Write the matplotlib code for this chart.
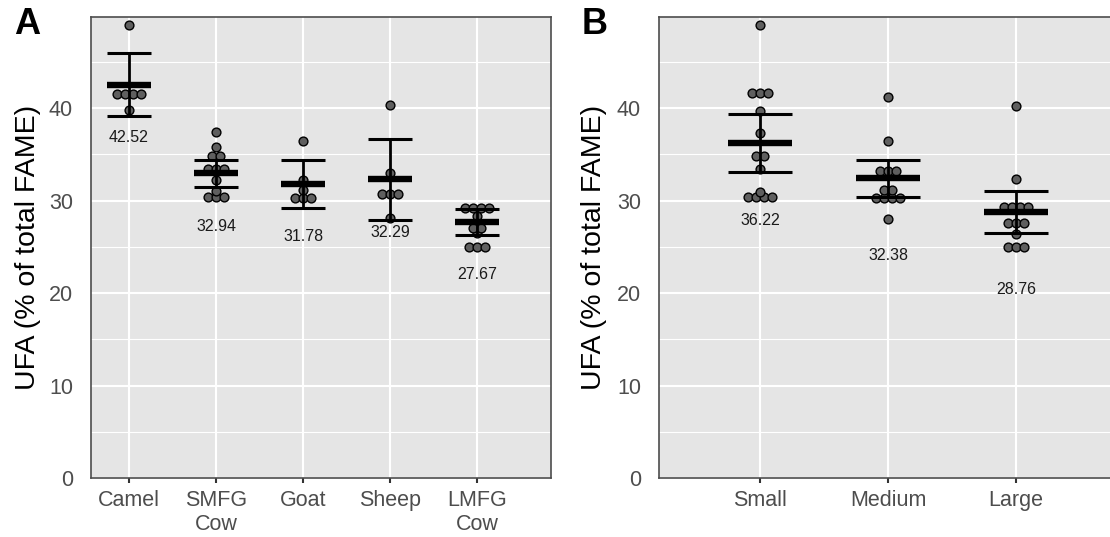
import numpy as np
import matplotlib.pyplot as plt

plt.rcParams['font.family'] = ['Liberation Sans', 'DejaVu Sans']

# Panel A: UFA by species
species = ['Camel', 'SMFG\nCow', 'Goat', 'Sheep', 'LMFG\nCow']
camel = [48.97, 41.48, 41.48, 41.48, 41.48, 39.78]
smfg_cow = [37.37, 35.82, 34.85, 34.85, 33.41, 33.41, 33.41, 32.22, 31.03,
            30.41, 30.41, 30.41]
goat = [36.47, 32.22, 31.14, 30.23, 30.23, 30.23]
sheep = [40.29, 32.94, 30.70, 30.70, 30.70, 28.08]
lmfg_cow = [29.22, 29.22, 29.22, 29.22, 28.36, 27.08, 27.08, 26.45, 25.00,
            25.00, 25.00]
species_mean = [42.52, 32.94, 31.78, 32.29, 27.67]
species_sd = [3.43, 1.48, 2.58, 4.36, 1.40]

# Panel B: UFA by herd size
herd = ['Small', 'Medium', 'Large']
small = [48.97, 41.66, 41.66, 41.66, 39.71, 37.35, 34.81, 34.81, 33.37, 30.96,
         30.41, 30.41, 30.41, 30.41]
medium = [41.15, 36.47, 33.15, 33.15, 33.15, 31.14, 31.14, 30.23, 30.23,
          30.23, 30.23, 28.00]
large = [40.25, 32.29, 29.33, 29.33, 29.33, 29.33, 27.53, 27.53, 27.53, 26.38,
         25.00, 25.00, 25.00]
herd_mean = [36.22, 32.38, 28.76]
herd_sd = [3.10, 2.03, 2.25]

W, H = 1110, 537
YMAX = 49.84
BG = '#E5E5E5'
EDGE = '#4D4D4D'


def dotplot(ax, xpos, values, binwidth=0.4, step_px=7.8):
    """ Centre-stacked dots, values binned along y"""
    x0, x1 = ax.get_xlim()
    step = step_px * (x1 - x0) / ax.get_window_extent().width
    bins = []
    for v in sorted(values):
        if bins and v - bins[-1][0] <= binwidth:
            bins[-1].append(v)
        else:
            bins.append([v])
    for b in bins:
        n = len(b)
        offs = (np.arange(n) - (n - 1) / 2) * step
        ax.scatter(xpos + offs, [np.mean(b)] * n, s=40, c='#5F5F5F',
                   edgecolors='black', linewidths=1.0, zorder=3)


def panel(ax, names, groups, means, sds, xlim, label_off):
    ax.set_facecolor(BG)
    ax.set_xlim(*xlim)
    ax.set_ylim(0, YMAX)
    x = np.arange(1, len(names) + 1)

    for xi, vals in zip(x, groups):
        dotplot(ax, xi, vals)

    means = np.array(means)
    sds = np.array(sds)
    ax.vlines(x, means - sds, means + sds, color='black', lw=2.0, zorder=4)
    ax.hlines(means - sds, x - 0.25, x + 0.25, color='black', lw=2.2, zorder=4)
    ax.hlines(means + sds, x - 0.25, x + 0.25, color='black', lw=2.2, zorder=4)
    ax.hlines(means, x - 0.25, x + 0.25, color='black', lw=4.6, zorder=4)
    for xi, m in zip(x, means):
        ax.text(xi, m - label_off, '{:.2f}'.format(m), ha='center',
                va='center', fontsize=11.5, color='#1A1A1A')

    ax.set_xticks(x)
    ax.set_xticklabels(names)
    ax.set_yticks([0, 10, 20, 30, 40])
    ax.set_yticks([5, 15, 25, 35, 45], minor=True)
    ax.grid(True, which='major', color='white', lw=1.5)
    ax.yaxis.grid(True, which='minor', color='white', lw=0.8)
    ax.set_axisbelow(True)

    ax.tick_params(axis='x', length=3.6, width=1.5, color='#333333', pad=5,
                   labelsize=15.5, labelcolor='#4D4D4D')
    ax.tick_params(axis='y', which='both', length=0, pad=13,
                   labelsize=15.5, labelcolor='#4D4D4D')
    for sp in ax.spines.values():
        sp.set_color(EDGE)
        sp.set_linewidth(1.2)
    ax.set_ylabel('UFA (% of total FAME)', fontsize=20.5, color='black')


fig = plt.figure(figsize=(W / 100, H / 100), dpi=100)
bottom = (H - 478) / H
height = (478 - 17) / H

axA = fig.add_axes([91 / W, bottom, 460 / W, height])
panel(axA, species, [camel, smfg_cow, goat, sheep, lmfg_cow],
      species_mean, species_sd, (0.563, 5.85), 5.7)
axA.yaxis.set_label_coords(-0.108, 0.5)

axB = fig.add_axes([659 / W, bottom, 453 / W, height])
panel(axB, herd, [small, medium, large], herd_mean, herd_sd,
      (0.211, 3.75), 8.35)
axB.yaxis.set_label_coords(-0.114, 0.5)

fig.text(27 / W, 1 - 24 / H, 'A', fontsize=26, fontweight='bold',
         ha='center', va='center')
fig.text(595 / W, 1 - 24 / H, 'B', fontsize=26, fontweight='bold',
         ha='center', va='center')

fig.savefig('out.png', dpi=100)
